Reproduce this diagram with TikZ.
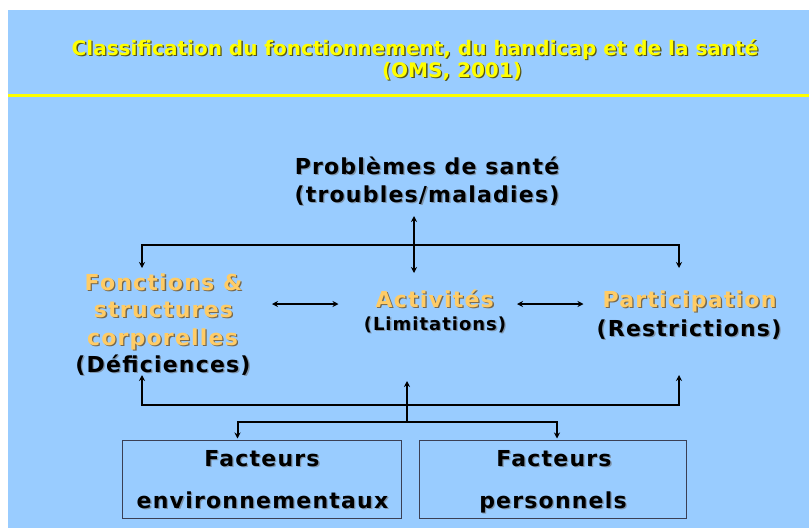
\documentclass[tikz,border=0pt]{standalone}
\usepackage{fontspec}
\setmainfont{DejaVu Sans}
\newfontfamily\vb[LetterSpace=5.5]{DejaVu Sans Bold}
\newfontfamily\vt{DejaVu Sans Bold}
\usetikzlibrary{arrows.meta}
\definecolor{bg}{HTML}{99CCFF}
\definecolor{ora}{HTML}{FFCC66}
\definecolor{ttl}{HTML}{FFFF00}
\definecolor{shk}{HTML}{7F95AD}
\definecolor{sho}{HTML}{76684E}
\definecolor{sht}{HTML}{55551A}
\definecolor{boxc}{HTML}{3A3F55}
\newcommand\shd[3]{\makebox[0pt][l]{\hspace{1.3pt}\raisebox{-1.3pt}{\textcolor{#2}{#3}}}\textcolor{#1}{#3}}
\tikzset{
  txt/.style={anchor=base, inner sep=0pt, font=\vb\fontsize{22}{26}\selectfont},
  small/.style={anchor=base, inner sep=0pt, font=\vb\fontsize{18}{22}\selectfont},
  ttlf/.style={anchor=base, inner sep=0pt, font=\vt\fontsize{20}{24}\selectfont},
  bus/.style={line width=2pt, line cap=butt},
  dbl/.style={line width=1.6pt, {Stealth[length=6pt,width=6pt]}-{Stealth[length=6pt,width=6pt]}},
  arr/.style={line width=2pt, -{Stealth[length=6pt,width=6pt]}},
  arrs/.style={line width=2pt, {Stealth[length=6pt,width=6pt]}-{Stealth[length=6pt,width=6pt]}},
  facbox/.style={draw=boxc, line width=1pt}
}
\begin{document}
\begin{tikzpicture}[x=1pt,y=-1pt]
\useasboundingbox (0,0) rectangle (809,528);
\fill[white] (0,0) rectangle (809,528);
\fill[bg] (8,10) rectangle (809,528);
\draw[ttl, line width=3pt] (8,95.5) -- (809,95.5);
% title
\node[ttlf] (title1) at (415,55) {\shd{ttl}{sht}{Classification du fonctionnement, du handicap et de la santé}};
\node[ttlf] (title2) at (452,77) {\shd{ttl}{sht}{(OMS, 2001)}};
% health
\node[txt] (sante1) at (427,174) {\shd{black}{shk}{Problèmes de santé}};
\node[txt] (sante2) at (427,202) {\shd{black}{shk}{(troubles/maladies)}};
% functions
\node[txt] (fonc1) at (163.5,290) {\shd{ora}{sho}{Fonctions \&}};
\node[txt] (fonc2) at (163.5,317.5) {\shd{ora}{sho}{structures}};
\node[txt] (fonc3) at (162.5,345) {\shd{ora}{sho}{corporelles}};
\node[txt] (fonc4) at (163,372.5) {\shd{black}{shk}{(Déficiences)}};
% activities
\node[txt] (act1) at (434.7,307) {\shd{ora}{sho}{Activités}};
\node[small] (act2) at (435,330) {\shd{black}{shk}{(Limitations)}};
% participation
\node[txt] (part1) at (689.5,307) {\shd{ora}{sho}{Participation}};
\node[txt] (part2) at (689,336.5) {\shd{black}{shk}{(Restrictions)}};
% boxes
\draw[facbox] (122.5,440) rectangle (401,518.5);
\draw[facbox] (419,440) rectangle (686,518.5);
\node[txt] (env1) at (262,466) {\shd{black}{shk}{Facteurs}};
\node[txt] (env2) at (262.5,508.3) {\shd{black}{shk}{environnementaux}};
\node[txt] (pers1) at (554,466) {\shd{black}{shk}{Facteurs}};
\node[txt] (pers2) at (553,508.3) {\shd{black}{shk}{personnels}};
% connector points
\coordinate (sT) at (414,216);
\coordinate (aT) at (414,273);
\coordinate (fT) at (142,268);
\coordinate (pT) at (679,268);
\coordinate (busT) at (679,245);
\coordinate (fB) at (142,375);
\coordinate (aB) at (407,381);
\coordinate (pB) at (679,375);
\coordinate (busB) at (679,404.5);
\coordinate (mid) at (407,421.5);
\coordinate (eT) at (237.5,438.5);
\coordinate (rT) at (557,438.5);
\coordinate (busE) at (557,421.5);
\coordinate (fR) at (272,304);
\coordinate (aL) at (338.5,304);
\coordinate (aR) at (517,304);
\coordinate (pL) at (583.5,304);
% connectors
\draw[arrs] (sT) -- (aT);
\draw[arrs] (fT) |- (busT) -- (pT);
\draw[arrs] (fB) |- (busB) -- (pB);
\draw[arr] (busB -| mid) -- (aB);
\draw[bus] (busB -| mid) -- (mid);
\draw[arrs] (eT) |- (busE) -- (rT);
\draw[dbl] (fR) -- (aL);
\draw[dbl] (aR) -- (pL);
\end{tikzpicture}
\end{document}
